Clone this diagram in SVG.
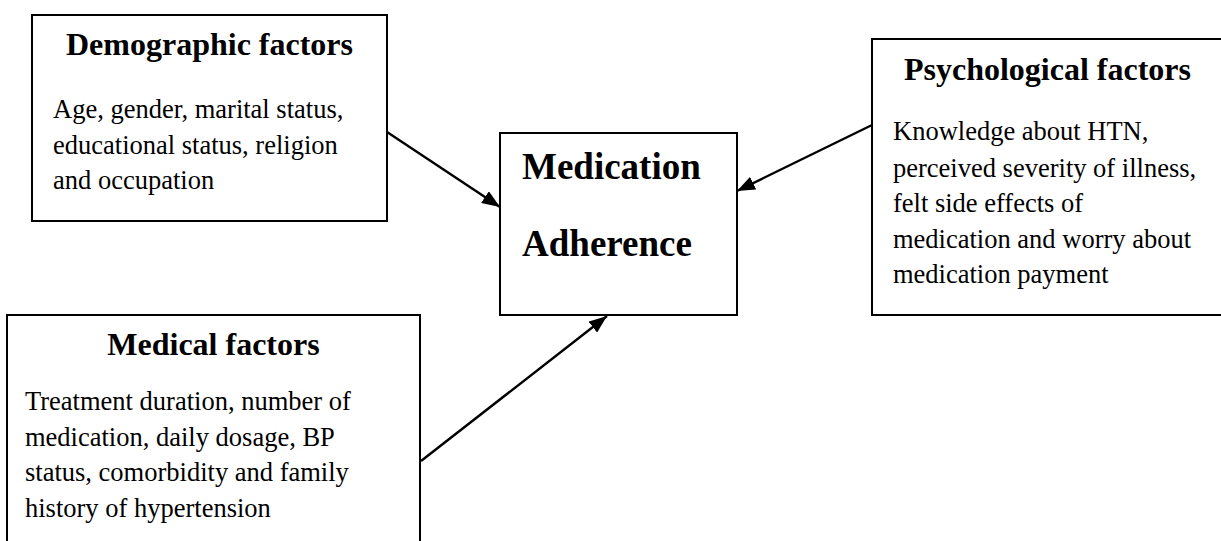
<svg xmlns="http://www.w3.org/2000/svg" width="1221" height="541" viewBox="0 0 1221 541">
<style>
.box{fill:#fff;stroke:#000;stroke-width:2}
.title{font-family:"Liberation Serif","Times New Roman",serif;font-weight:bold;font-size:32px;fill:#000}
.big{font-family:"Liberation Serif","Times New Roman",serif;font-weight:bold;font-size:37px;fill:#000}
.body{font-family:"Liberation Serif","Times New Roman",serif;font-size:26.5px;fill:#000}
.conn{stroke:#000;stroke-width:2.4;fill:none;marker-end:url(#arr)}
</style>
<defs>
<marker id="arr" viewBox="0 0 18 14" refX="18" refY="7" markerWidth="18" markerHeight="14" markerUnits="userSpaceOnUse" orient="auto">
<path d="M0,0 L18,7 L0,14 z" fill="#000"/>
</marker>
</defs>
<rect width="1221" height="541" fill="#fff"/>
<g id="demographic">
<rect class="box" x="32" y="15" width="355" height="206"/>
<text class="title" x="209.5" y="55" text-anchor="middle">Demographic factors</text>
<text class="body" x="53" y="118">Age, gender, marital status,</text>
<text class="body" x="53" y="154">educational status, religion</text>
<text class="body" x="53" y="189">and occupation</text>
</g>
<g id="adherence">
<rect class="box" x="500" y="133" width="237" height="182"/>
<text class="big" x="522" y="179">Medication</text>
<text class="big" x="522" y="256">Adherence</text>
</g>
<g id="psychological">
<rect class="box" x="872" y="39" width="352" height="276"/>
<text class="title" x="1047.5" y="80" text-anchor="middle">Psychological factors</text>
<text class="body" x="893" y="140">Knowledge about HTN,</text>
<text class="body" x="893" y="177">perceived severity of illness,</text>
<text class="body" x="893" y="212">felt side effects of</text>
<text class="body" x="893" y="248">medication and worry about</text>
<text class="body" x="893" y="283">medication payment</text>
</g>
<g id="medical">
<rect class="box" x="7" y="315" width="413" height="235"/>
<text class="title" x="213.5" y="355" text-anchor="middle">Medical factors</text>
<text class="body" x="25" y="410">Treatment duration, number of</text>
<text class="body" x="25" y="446">medication, daily dosage, BP</text>
<text class="body" x="25" y="481">status, comorbidity and family</text>
<text class="body" x="25" y="517">history of hypertension</text>
</g>
<g id="connectors">
<line class="conn" x1="387" y1="132" x2="500" y2="207"/>
<line class="conn" x1="872" y1="125" x2="737" y2="191"/>
<line class="conn" x1="421" y1="461" x2="607" y2="316"/>
</g>
</svg>
